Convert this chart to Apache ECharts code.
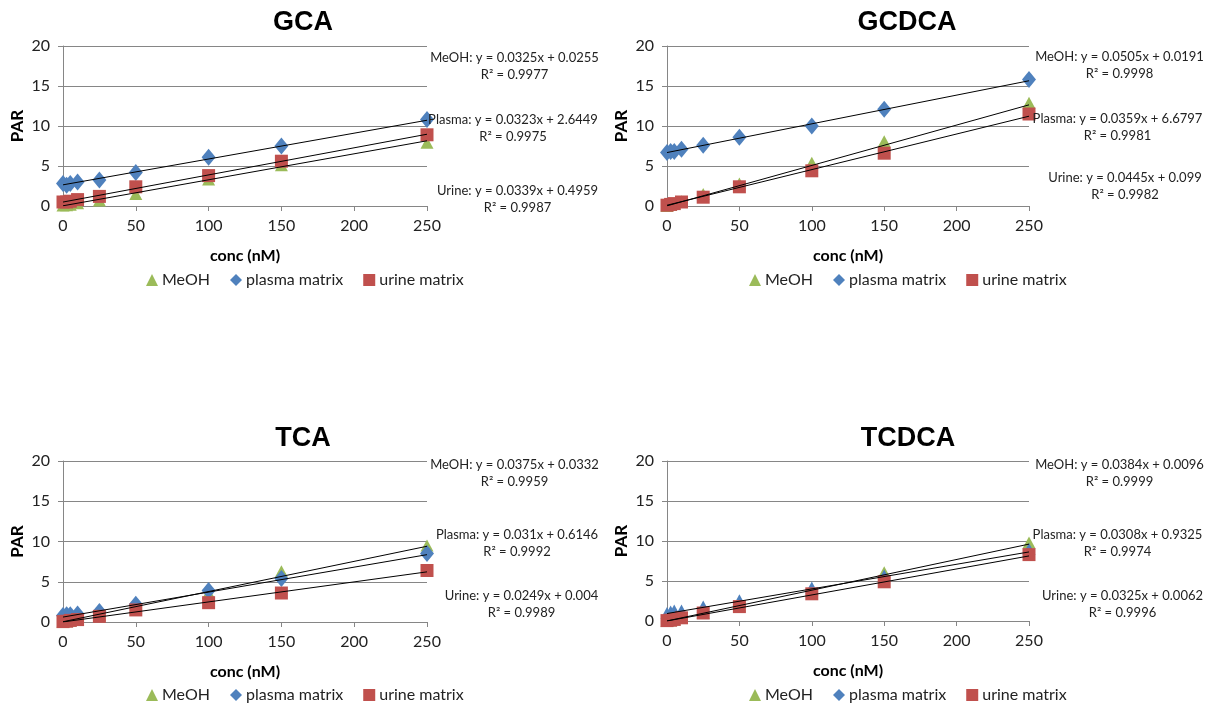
<!DOCTYPE html>
<html><head><meta charset="utf-8">
<script src="https://cdn.jsdelivr.net/npm/echarts@6/dist/echarts.min.js"></script>
<style>html,body{margin:0;padding:0;background:#fff}#c{width:1209px;height:710px}</style>
</head><body><div id="c"></div>
<script>
// ---------- DATA ----------
const titles = ['GCA', 'GCDCA', 'TCA', 'TCDCA'];
const concX = [0, 2.5, 5, 10, 25, 50, 100, 150, 250];
const xTicks = [0, 50, 100, 150, 200, 250];
const yTicks = [0, 5, 10, 15, 20];
const seriesNames = ['MeOH', 'plasma matrix', 'urine matrix'];
const eqPrefixes = ['MeOH', 'Plasma', 'Urine'];

const gcaMeOH   = [0.05, 0.1, 0.15, 0.35, 0.7, 1.5, 3.3, 5.1, 7.9];
const gcaPlasma = [2.8, 2.6, 2.8, 3.0, 3.25, 4.2, 6.1, 7.5, 10.8];
const gcaUrine  = [0.5, 0.5, 0.6, 0.8, 1.2, 2.4, 3.8, 5.6, 8.9];

const gcdcaMeOH   = [0.0, 0.15, 0.3, 0.6, 1.5, 2.8, 5.4, 8.1, 12.9];
const gcdcaPlasma = [6.7, 6.8, 6.8, 7.1, 7.6, 8.6, 10.0, 12.1, 15.8];
const gcdcaUrine  = [0.1, 0.2, 0.3, 0.5, 1.1, 2.4, 4.4, 6.6, 11.5];

const tcaMeOH   = [0.05, 0.1, 0.2, 0.4, 0.9, 1.8, 3.6, 6.3, 9.5];
const tcaPlasma = [0.8, 0.9, 0.9, 1.0, 1.3, 2.2, 3.9, 5.4, 8.5];
const tcaUrine  = [0.05, 0.1, 0.2, 0.3, 0.7, 1.5, 2.4, 3.6, 6.4];

const tcdcaMeOH   = [0.0, 0.1, 0.2, 0.4, 1.0, 1.9, 3.9, 6.1, 9.8];
const tcdcaPlasma = [1.0, 1.2, 1.3, 1.3, 1.8, 2.6, 4.2, 5.7, 9.0];
const tcdcaUrine  = [0.05, 0.1, 0.2, 0.4, 1.0, 1.8, 3.4, 4.9, 8.3];

const slopesMeOH     = [0.0325, 0.0505, 0.0375, 0.0384];
const interceptsMeOH = [0.0255, 0.0191, 0.0332, 0.0096];
const r2MeOH         = ['0.9977', '0.9998', '0.9959', '0.9999'];
const slopesPlasma     = [0.0323, 0.0359, 0.031, 0.0308];
const interceptsPlasma = [2.6449, 6.6797, 0.6146, 0.9325];
const r2Plasma         = ['0.9975', '0.9981', '0.9992', '0.9974'];
const slopesUrine     = [0.0339, 0.0445, 0.0249, 0.0325];
const interceptsUrine = [0.4959, 0.099, 0.004, 0.0062];
const r2Urine         = ['0.9987', '0.9982', '0.9989', '0.9996'];

// ---------- BUILD ----------
const values = [
  [gcaMeOH, gcaPlasma, gcaUrine],
  [gcdcaMeOH, gcdcaPlasma, gcdcaUrine],
  [tcaMeOH, tcaPlasma, tcaUrine],
  [tcdcaMeOH, tcdcaPlasma, tcdcaUrine]
];
const slopes = [slopesMeOH, slopesPlasma, slopesUrine];
const intercepts = [interceptsMeOH, interceptsPlasma, interceptsUrine];
const r2s = [r2MeOH, r2Plasma, r2Urine];

const FONT = 'Lato, "Open Sans", sans-serif';
const colors = ['#9BBB59', '#4F81BD', '#C0504D'];
const grids = [
  {left: 63, top: 46, width: 364, height: 160},
  {left: 667, top: 46, width: 362, height: 160},
  {left: 63, top: 461, width: 364, height: 161},
  {left: 667, top: 461, width: 362, height: 160}
];
const titlePos = [[303, 9], [907, 9], [303, 425], [908, 425]];
const legendPos = [[146, 272], [749, 272], [146, 687], [749, 687]];
const eqPos = [
  [[514.5, 58], [513, 120], [517.5, 191]],
  [[1119.5, 57], [1117.5, 119], [1125, 178]],
  [[514.5, 465], [517, 535], [521.5, 596]],
  [[1119.5, 465], [1117.5, 535], [1122.5, 596]]
];
const symbols = ['triangle', 'diamond', 'rect'];
const symSizes = [[13, 12], [14, 17], [13, 13]];

const xMin = xTicks[0], xMax = xTicks[xTicks.length - 1];
const xAxes = [], yAxes = [], series = [], title = [], legend = [], graphic = [];
const axisColor = '#868686';

for (let g = 0; g < 4; g++) {
  title.push({text: titles[g], left: titlePos[g][0], top: titlePos[g][1], textAlign: 'center', padding: 0,
    textStyle: {fontFamily: 'Liberation Sans, Arial, sans-serif', fontWeight: 'bold', fontSize: 27, color: '#000'}});
  xAxes.push({gridIndex: g, type: 'value', min: xMin, max: xMax, interval: xTicks[1] - xTicks[0],
    name: 'conc (nM)', nameLocation: 'middle', nameGap: 42,
    nameTextStyle: {fontFamily: FONT, fontWeight: 'bold', fontSize: 16, color: '#000'},
    axisLine: {show: true, lineStyle: {color: axisColor, width: 1}},
    axisTick: {show: true, length: 5, lineStyle: {color: axisColor}},
    axisLabel: {fontFamily: FONT, fontSize: 16, color: '#222', margin: 12},
    splitLine: {show: false}});
  yAxes.push({gridIndex: g, type: 'value', min: yTicks[0], max: yTicks[yTicks.length - 1], interval: yTicks[1] - yTicks[0],
    name: 'PAR', nameLocation: 'middle', nameGap: 37, nameRotate: 90,
    nameTextStyle: {fontFamily: FONT, fontWeight: 'bold', fontSize: 17, color: '#000'},
    axisLine: {show: true, lineStyle: {color: axisColor, width: 1}},
    axisTick: {show: true, length: 5, lineStyle: {color: axisColor}},
    axisLabel: {fontFamily: FONT, fontSize: 16, color: '#222', margin: 13},
    splitLine: {show: true, lineStyle: {color: axisColor, width: 1}}});
  legend.push({left: legendPos[g][0], top: legendPos[g][1], padding: 0, itemGap: 20, itemWidth: 12, itemHeight: 12,
    selectedMode: false,
    textStyle: {fontFamily: FONT, fontSize: 16, color: '#222', padding: [0, 0, 0, -1]},
    data: seriesNames.map((n, i) => ({name: n, icon: symbols[i]}))});
  for (let s = 0; s < 3; s++) {
    // TCDCA plasma points are drawn as triangles in the reference
    const sym = (g === 3 && s === 1) ? 'triangle' : symbols[s];
    const size = (g === 3 && s === 1) ? symSizes[0] : symSizes[s];
    series.push({type: 'scatter', name: seriesNames[s], xAxisIndex: g, yAxisIndex: g,
      symbol: sym, symbolSize: size, itemStyle: {color: colors[s], opacity: 1}, z: 2,
      data: concX.map((x, i) => [x, values[g][s][i]])});
  }
  for (let s = 0; s < 3; s++) {
    const m = slopes[s][g], b = intercepts[s][g];
    series.push({type: 'line', name: 'trend' + g + s, xAxisIndex: g, yAxisIndex: g, symbol: 'none', z: 4,
      silent: true, lineStyle: {color: '#000', width: 1}, animation: false,
      data: [[xMin, b], [xMax, m * xMax + b]]});
    graphic.push({type: 'text', x: eqPos[g][s][0], y: eqPos[g][s][1] - 8.5, z: 10,
      style: {text: eqPrefixes[s] + ': y = ' + m + 'x + ' + b + '\nR\u00B2 = ' + r2s[s][g],
        align: 'center', verticalAlign: 'top', lineHeight: 17,
        fontFamily: FONT, fontSize: 13, fill: '#222'}});
  }
}

const chart = echarts.init(document.getElementById('c'), null, {renderer: 'canvas'});
chart.setOption({animation: false, backgroundColor: '#fff', title, grid: grids, xAxis: xAxes, yAxis: yAxes,
  legend, series, graphic});
</script></body></html>
